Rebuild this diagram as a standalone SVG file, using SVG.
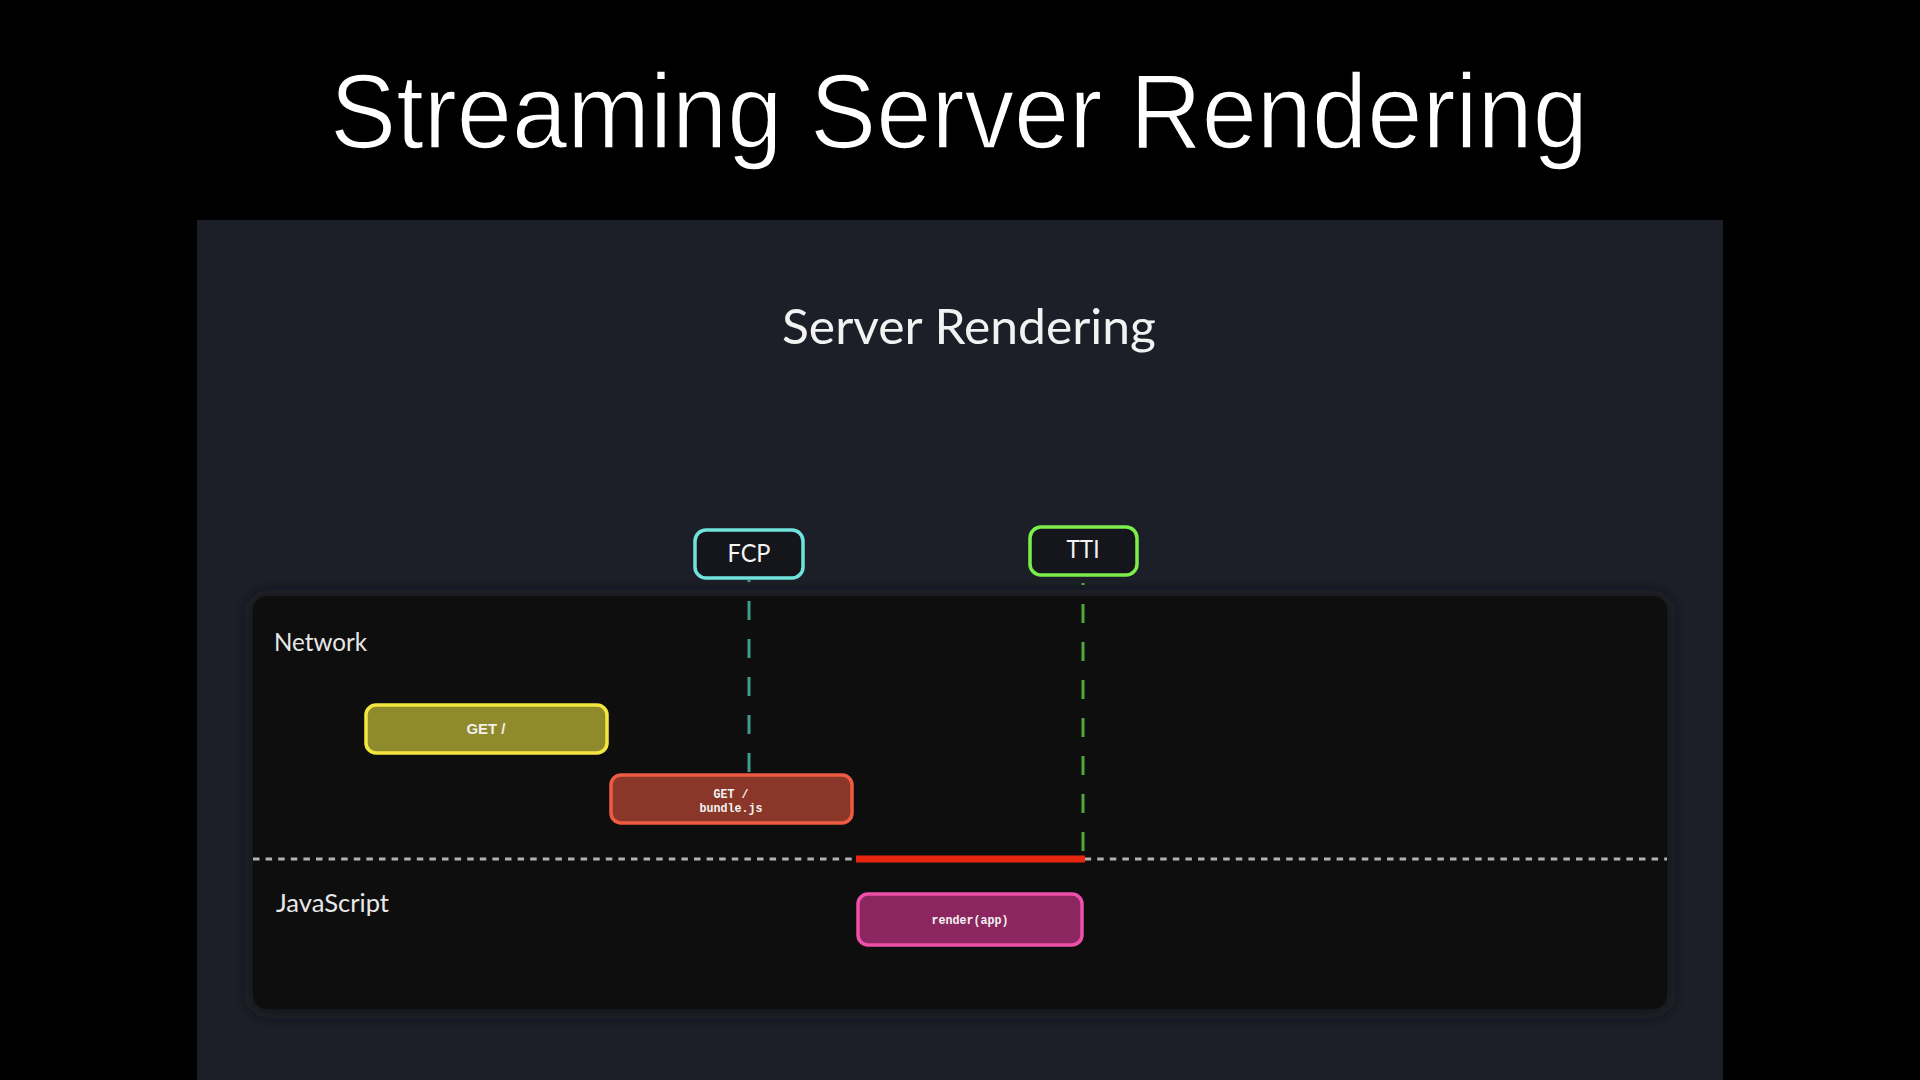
<svg xmlns="http://www.w3.org/2000/svg" width="1920" height="1080" viewBox="0 0 1920 1080">
  <defs>
    <style>
      .title { font-family: "Liberation Sans", Arial, sans-serif; fill: #ffffff; stroke: #000000; stroke-width: 1.6; paint-order: fill stroke; }
      .sub { font-family: Lato, "Noto Sans", sans-serif; fill: #f2f2f2; }
      .lane { font-family: Lato, "Noto Sans", sans-serif; fill: #e8e8e8; font-size: 25px; }
      .marker-box { fill: #14161b; stroke-width: 3.5; }
      .marker-text { font-family: Lato, "Noto Sans", sans-serif; fill: #f4f4f4; font-size: 25px; text-anchor: middle; }
      .task { stroke-width: 3.5; }
      .task-sans { font-family: "Liberation Sans", Arial, sans-serif; font-weight: bold; font-size: 15px; fill: #f0f0e8; text-anchor: middle; }
      .task-mono { font-family: "Liberation Mono", "DejaVu Sans Mono", monospace; font-weight: bold; font-size: 13px; fill: #f2f2f2; text-anchor: middle; }
      .vdash { stroke-width: 3; stroke-dasharray: 19 19; stroke-dashoffset: 17; fill: none; }
    </style>
    <filter id="soft" x="-5%" y="-5%" width="110%" height="110%">
      <feGaussianBlur stdDeviation="8"/>
    </filter>
  </defs>

  <!-- slide background -->
  <rect x="0" y="0" width="1920" height="1080" fill="#000000"/>
  <text class="title" x="959" y="148" font-size="106" text-anchor="middle" textLength="1258" lengthAdjust="spacingAndGlyphs">Streaming Server Rendering</text>

  <!-- embedded slide -->
  <rect x="197" y="220" width="1526" height="860" fill="#1c1f27"/>
  <text class="sub" x="969" y="344" font-size="48" text-anchor="middle" textLength="374" lengthAdjust="spacingAndGlyphs">Server Rendering</text>

  <!-- timeline panel -->
  <rect x="250" y="595" width="1420" height="418" rx="16" fill="#17191e" filter="url(#soft)"/>
  <rect id="timeline-panel" x="253" y="596" width="1414" height="413" rx="14" fill="#0e0e0f"/>

  <g id="lane-labels">
    <text id="lane-network" class="lane" x="274" y="651" textLength="93" lengthAdjust="spacingAndGlyphs">Network</text>
    <text id="lane-javascript" class="lane" x="276" y="912" textLength="113" lengthAdjust="spacingAndGlyphs">JavaScript</text>
  </g>

  <g id="connectors">
    <line id="lane-divider" x1="253" y1="859" x2="1667" y2="859" stroke="#b2b2b2" stroke-width="3" stroke-dasharray="6.5 6.1"/>
    <line id="fcp-line" class="vdash" x1="749" y1="580" x2="749" y2="774" stroke="#3d9c8a"/>
    <line id="tti-line" class="vdash" x1="1083" y1="583" x2="1083" y2="855" stroke="#4fa83c"/>
    <line id="blocking-bar" x1="856" y1="859" x2="1085" y2="859" stroke="#e8260e" stroke-width="7"/>
  </g>

  <g id="fcp">
    <rect class="marker-box" x="695" y="530" width="108" height="48" rx="11" stroke="#6fe3dc"/>
    <text class="marker-text" x="749" y="562" textLength="43" lengthAdjust="spacingAndGlyphs">FCP</text>
  </g>

  <g id="tti">
    <rect class="marker-box" x="1030" y="527" width="107" height="48" rx="11" stroke="#7def4c"/>
    <text class="marker-text" x="1083" y="558" textLength="33" lengthAdjust="spacingAndGlyphs">TTI</text>
  </g>

  <g id="get-root">
    <rect class="task" x="366" y="705" width="241" height="48" rx="10" fill="#8f8a2c" stroke="#f3e63f"/>
    <text class="task-sans" x="486" y="734" textLength="39" lengthAdjust="spacingAndGlyphs">GET /</text>
  </g>

  <g id="get-bundle">
    <rect class="task" x="611" y="775" width="241" height="48" rx="10" fill="#8a3628" stroke="#ef5b42"/>
    <text class="task-mono" x="731" y="798" textLength="35" lengthAdjust="spacingAndGlyphs">GET /</text>
    <text class="task-mono" x="731" y="812" textLength="63" lengthAdjust="spacingAndGlyphs">bundle.js</text>
  </g>

  <g id="render-app">
    <rect class="task" x="858" y="894" width="224" height="51" rx="10" fill="#8b2660" stroke="#ee50a7"/>
    <text class="task-mono" x="970" y="924" textLength="77" lengthAdjust="spacingAndGlyphs">render(app)</text>
  </g>
</svg>
